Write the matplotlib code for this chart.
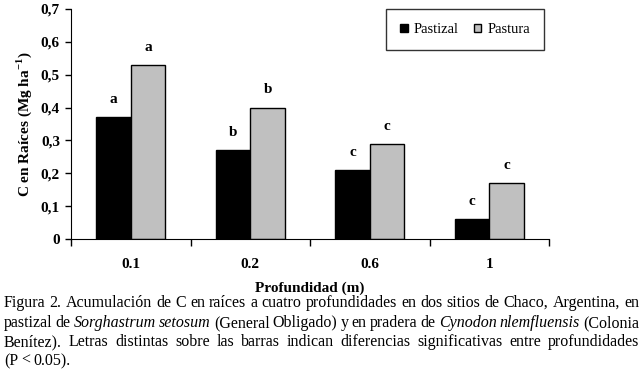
import matplotlib
matplotlib.use("Agg")
import matplotlib.pyplot as plt
import numpy as np

depths = ["0.1", "0.2", "0.6", "1"]
pastizal = [0.37, 0.27, 0.21, 0.06]
pastura = [0.53, 0.40, 0.29, 0.17]
letters_pastizal = ["a", "b", "c", "c"]
letters_pastura = ["a", "b", "c", "c"]
yticks = [0, 0.1, 0.2, 0.3, 0.4, 0.5, 0.6, 0.7]
ytick_labels = ["0", "0,1", "0,2", "0,3", "0,4", "0,5", "0,6", "0,7"]

caption = [
    "Figura 2. Acumulación de C en raíces a cuatro profundidades en dos sitios de Chaco, Argentina, en",
    "pastizal de _Sorghastrum _setosum (General Obligado) y en pradera de _Cynodon _nlemfluensis (Colonia",
    "Benítez). Letras distintas sobre las barras indican diferencias significativas entre profundidades",
    "(P < 0.05).",
]

SERIF = "Liberation Serif"
plt.rcParams["font.family"] = [SERIF, "DejaVu Serif"]
plt.rcParams["mathtext.fontset"] = "custom"
plt.rcParams["mathtext.rm"] = SERIF
plt.rcParams["mathtext.bf"] = SERIF + ":bold"

fig = plt.figure(figsize=(6.43, 3.71), dpi=100)
ax = fig.add_axes([71 / 643, 1 - 239 / 371, 478 / 643, 230 / 371])

x = np.arange(len(depths))
w = 0.29
b1 = ax.bar(x - w / 2, pastizal, w, color="black", edgecolor="black",
            linewidth=1, label="Pastizal")
b2 = ax.bar(x + w / 2, pastura, w, color="#c0c0c0", edgecolor="black",
            linewidth=1, label="Pastura")

for bars, letters in ((b1, letters_pastizal), (b2, letters_pastura)):
    for rect, lt in zip(bars, letters):
        ax.annotate(lt, (rect.get_x() + rect.get_width() / 2, rect.get_height()),
                    xytext=(0, 8), textcoords="offset points", ha="center",
                    va="bottom", fontsize=11, fontweight="bold")

ax.set_xlim(-0.5, len(depths) - 0.5)
ax.set_ylim(0, 0.7)
ax.set_yticks(yticks)
ax.set_yticklabels(ytick_labels, fontsize=11, fontweight="bold")
ax.set_xticks(np.arange(-0.5, len(depths), 1.0))
ax.set_xticklabels([])
ax.set_xticks(x, minor=True)
ax.set_xticklabels(depths, minor=True, fontsize=11, fontweight="bold")
ax.tick_params(axis="x", which="minor", length=0, pad=14)
ax.tick_params(axis="x", which="major", direction="out", length=5, width=1)
ax.tick_params(axis="y", direction="out", length=4, width=1, pad=4)
for s in ("top", "right"):
    ax.spines[s].set_visible(False)
ax.set_xlabel("Profundidad (m)", fontsize=11, fontweight="bold", labelpad=7)
ax.set_ylabel(r"C en Raíces (Mg ha$^{\mathbf{-1}}$)", fontsize=11,
              fontweight="bold", labelpad=5)

leg = ax.legend(loc="upper right", bbox_to_anchor=(544 / 643, 1 - 9 / 371),
                bbox_transform=fig.transFigure, ncol=2, frameon=True,
                fancybox=False, fontsize=10.5, handlelength=0.5,
                handleheight=0.5, columnspacing=1.0, handletextpad=0.45,
                borderpad=0.95, borderaxespad=0)
leg.get_frame().set_edgecolor("black")
leg.get_frame().set_linewidth(1)

# justified caption
renderer = fig.canvas.get_renderer()
left, right = 4 / 643, 639 / 643
line_y = [303, 323, 342, 361]
for i, line in enumerate(caption):
    words = line.split(" ")
    objs = []
    for wd in words:
        style = "italic" if wd.startswith("_") else "normal"
        t = fig.text(0, 1 - line_y[i] / 371, wd.lstrip("_"), fontsize=11.5,
                     style=style, va="center", ha="left")
        objs.append(t)
    widths = [t.get_window_extent(renderer).width / 643 for t in objs]
    if i < len(caption) - 1:
        gap = (right - left - sum(widths)) / (len(objs) - 1)
    else:
        gap = 3.2 / 643
    pos = left
    for t, wd in zip(objs, widths):
        t.set_x(pos)
        pos += wd + gap

fig.savefig("out.png", dpi=100)
